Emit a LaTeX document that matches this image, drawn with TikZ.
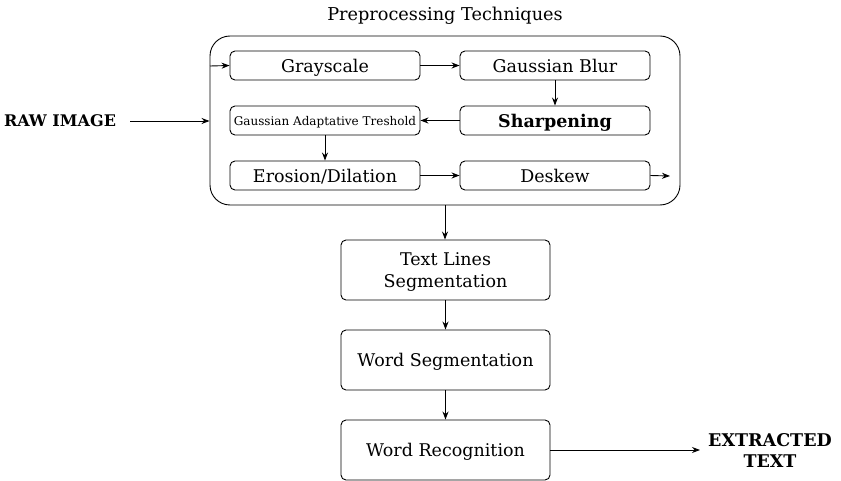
\documentclass[tikz,border=0pt]{standalone}
\usepackage{fontspec}
\setmainfont{DejaVu Serif}
\usetikzlibrary{arrows.meta}
\begin{document}
\begin{tikzpicture}[x=1pt,y=-1pt,
  box/.style={draw,rounded corners=5pt,line width=0.9pt,inner sep=0pt,text depth=0pt,font=\fontsize{17.5}{21.5}\selectfont,align=center},
  small/.style={box,minimum width=190pt,minimum height=29pt},
  big/.style={box,minimum width=209pt,minimum height=60pt},
  arr/.style={-{Stealth[length=8pt,width=6pt]},line width=0.9pt}]
\useasboundingbox (0,0) rectangle (841,481);
\node[draw,rounded corners=20pt,line width=0.9pt,minimum width=470pt,minimum height=169pt,inner sep=0pt] (cont) at (445,120.5) {};
\node[font=\fontsize{17.7}{21}\selectfont] (title) at (445,16) {Preprocessing Techniques};
\node[small] (gray) at (325,65.5) {Grayscale};
\node[small] (blur) at (555,65.5) {Gaussian Blur};
\node[small,font=\fontsize{12}{14}\selectfont] (gat) at (325,120.5) {Gaussian Adaptative Treshold};
\node[small,font=\bfseries\fontsize{17.5}{21}\selectfont] (sharp) at (555,120.5) {Sharpening};
\node[small] (ero) at (325,175.5) {Erosion/Dilation};
\node[small] (desk) at (555,175.5) {Deskew};
\node[big] (tls) at (445.5,270) {Text Lines\\Segmentation};
\node[big] (ws) at (445.5,360) {Word Segmentation};
\node[big] (wr) at (445.5,450) {Word Recognition};
\node[font=\bfseries\fontsize{16}{19}\selectfont,text depth=0pt] (raw) at (60,121) {RAW IMAGE};
\node[font=\bfseries\fontsize{17.5}{21}\selectfont,align=center] (ext) at (770,451) {EXTRACTED\\TEXT};
\coordinate (rawend) at (130,121);
\coordinate (contin) at (210,66);
\coordinate (deskout) at (670,176);
\coordinate (extin) at (700,450);
\draw[arr] (rawend) -- (cont.west |- rawend);
\draw[arr] (contin) -- (gray.west);
\draw[arr] (gray) -- (blur);
\draw[arr] (blur) -- (sharp);
\draw[arr] (sharp) -- (gat);
\draw[arr] (gat) -- (ero);
\draw[arr] (ero) -- (desk);
\draw[arr] (desk.east) -- (deskout);
\draw[arr] (cont.south) -- (tls.north -| cont.south);
\draw[arr] (tls) -- (ws);
\draw[arr] (ws) -- (wr);
\draw[arr] (wr.east) -- (extin);
\end{tikzpicture}
\end{document}
